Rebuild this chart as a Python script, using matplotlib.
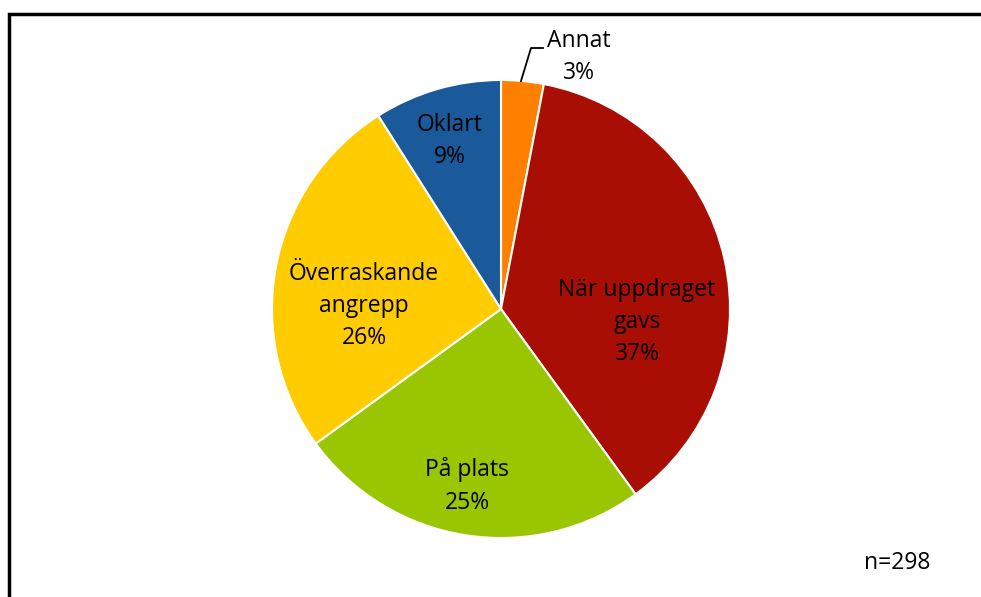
import matplotlib.pyplot as plt
from matplotlib.patches import Rectangle

# Data
categories = ["Annat", "När uppdraget\ngavs", "På plats", "Överraskande\nangrepp", "Oklart"]
percent = [3, 37, 25, 26, 9]
colors = ["#FF8000", "#A80E03", "#99C600", "#FFCC00", "#1A5A9A"]
n_total = 298

W, H = 981, 597
fig = plt.figure(figsize=(W / 100, H / 100), dpi=100)
plt.rcParams['font.family'] = ['Open Sans', 'DejaVu Sans']

# axes in pixel coordinates
ax = fig.add_axes([0, 0, 1, 1])

cx, cy, R = 501, H - 309, 229
ax.pie(percent, colors=colors, startangle=90, counterclock=False,
       center=(cx, cy), radius=R, frame=True,
       wedgeprops=dict(edgecolor='white', linewidth=1.5))
ax.set_xlim(0, W)
ax.set_ylim(0, H)
ax.set_aspect('equal')
ax.axis('off')

# label placement (pixel positions of label centres)
label_pos = [(579, 57), (637, 322), (467, 486), (364, 306), (450, 141)]
for name, p, (x, y) in zip(categories, percent, label_pos):
    ax.text(x, H - y, f"{name}\n{p}%", ha='center', va='center',
            fontsize=16.5, color='black', linespacing=1.45)

# leader line for Annat
ax.plot([521, 531, 543], [H - 81, H - 48, H - 48], color='black', lw=1.3)

ax.text(897, H - 563, f"n={n_total}", ha='center', va='center', fontsize=16.5)

# outer frame (only top and left visible)
ax.add_patch(Rectangle((9, -20), W + 20, H - 14 + 20, fill=False,
                       edgecolor='black', lw=2.5, clip_on=False))

fig.savefig("out.png", dpi=100)
